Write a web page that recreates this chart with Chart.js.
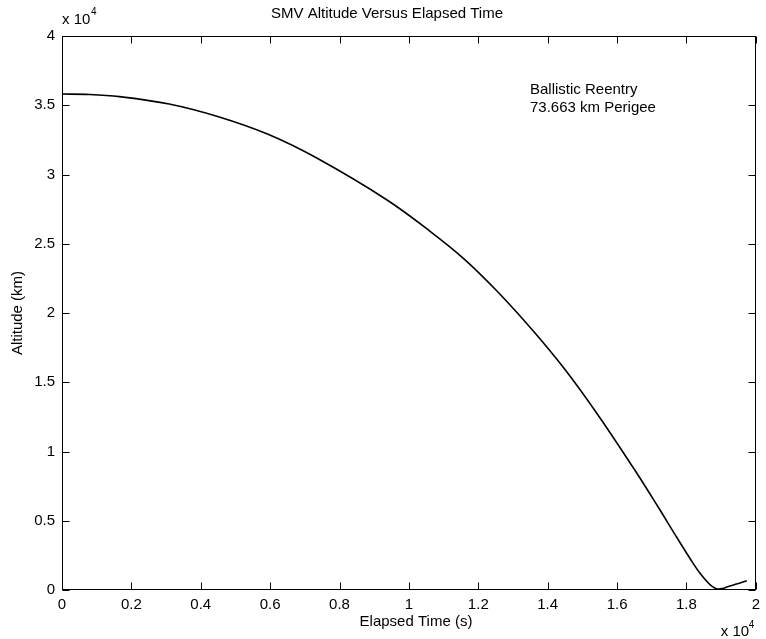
<!DOCTYPE html>
<html><head><meta charset="utf-8">
<script src="https://cdn.jsdelivr.net/npm/chart.js@4/dist/chart.umd.min.js"></script>
<style>html,body{margin:0;padding:0;background:#fff}canvas{display:block}</style>
</head><body>
<canvas id="c" width="766" height="639"></canvas>
<script>
// Data (time in s, altitude in km)
const elapsedTime = [0,800,1660,3090,4510,5940,7370,9370,10610,11570,12510,13560,14510,15460,16510,17180,17660,18130,18370,18610,18750,18890,19040,19190,19470,19740];
const altitude    = [35810,35780,35620,35090,34170,32900,31150,28160,25900,23950,21660,18770,15880,12600,8660,6010,4050,2170,1280,560,250,74,110,240,450,670];

const xTickValues = [0,2000,4000,6000,8000,10000,12000,14000,16000,18000,20000];
const xTickLabels = ['0','0.2','0.4','0.6','0.8','1','1.2','1.4','1.6','1.8','2'];
const yTickValues = [0,5000,10000,15000,20000,25000,30000,35000,40000];
const yTickLabels = ['0','0.5','1','1.5','2','2.5','3','3.5','4'];

const titleText = 'SMV Altitude Versus Elapsed Time';
const xTitle = 'Elapsed Time (s)';
const yTitle = 'Altitude (km)';
const noteLines = ['Ballistic Reentry','73.663 km Perigee'];

const FONT = '"Liberation Sans", Arial, Helvetica, sans-serif';

const points = elapsedTime.map((t,i)=>({x:t,y:altitude[i]}));

const framePlugin = {
  id:'frame',
  afterDatasetsDraw(chart){
    const {ctx, chartArea:a, scales:{x,y}} = chart;
    ctx.save();
    ctx.strokeStyle='#000'; ctx.lineWidth=1;
    const L=Math.round(a.left)+0.5, R=Math.round(a.right)-0.5, T=Math.round(a.top)+0.5, B=Math.round(a.bottom)-0.5;
    ctx.strokeRect(L,T,R-L,B-T);
    const tl=7;
    ctx.beginPath();
    xTickValues.forEach(v=>{
      const px=Math.round(x.getPixelForValue(v))+0.5;
      ctx.moveTo(px,B); ctx.lineTo(px,B-tl);
      ctx.moveTo(px,T); ctx.lineTo(px,T+tl);
    });
    yTickValues.forEach(v=>{
      const py=Math.round(y.getPixelForValue(v))+0.5;
      ctx.moveTo(L,py); ctx.lineTo(L+tl,py);
      ctx.moveTo(R,py); ctx.lineTo(R-tl,py);
    });
    ctx.stroke();
    ctx.restore();
  },
  afterDraw(chart){
    const {ctx, chartArea:a} = chart;
    ctx.save();
    ctx.fillStyle='#000';
    ctx.font='15px '+FONT;
    ctx.textBaseline='middle';
    ctx.textAlign='center';
    ctx.fillText(titleText,387,14);
    ctx.fillText(xTitle,416,a.bottom+32);
    ctx.save();
    ctx.translate(18,(a.top+a.bottom)/2);
    ctx.rotate(-Math.PI/2);
    ctx.fillText(yTitle,0,0);
    ctx.restore();
    ctx.textAlign='left';
    ctx.fillText('x 10',a.left,a.top-16);
    ctx.font='10px '+FONT;
    ctx.fillText('4',a.left+29,a.top-24);
    ctx.font='15px '+FONT;
    ctx.fillText('x 10',a.right-35,a.bottom+42);
    ctx.font='10px '+FONT;
    ctx.fillText('4',a.right-7,a.bottom+35);
    ctx.font='15px '+FONT;
    ctx.fillText(noteLines[0],530,90);
    ctx.fillText(noteLines[1],530,108);
    ctx.restore();
  }
};

new Chart(document.getElementById('c'),{
  type:'line',
  data:{datasets:[{data:points,borderColor:'#000',borderWidth:1.6,pointRadius:0,fill:false,tension:0.35}]},
  options:{
    responsive:false,animation:false,
    layout:{padding:{top:36,right:4,left:0,bottom:0}},
    plugins:{legend:{display:false},tooltip:{enabled:false},title:{display:false}},
    scales:{
      x:{type:'linear',min:0,max:20000,
        afterFit(s){s.height=49;},
        afterBuildTicks(s){s.ticks=xTickValues.map(v=>({value:v}));},
        grid:{display:false,drawTicks:false},border:{display:false},
        ticks:{padding:6,color:'#000',font:{family:FONT,size:15},maxRotation:0,autoSkip:false,
          callback:(v)=>xTickLabels[xTickValues.indexOf(v)]}},
      y:{type:'linear',min:0,max:40000,
        afterFit(s){s.width=62;},
        afterBuildTicks(s){s.ticks=yTickValues.map(v=>({value:v}));},
        grid:{display:false,drawTicks:false},border:{display:false},
        ticks:{padding:7,color:'#000',font:{family:FONT,size:15},autoSkip:false,
          callback:(v)=>yTickLabels[yTickValues.indexOf(v)]}}
    }
  },
  plugins:[framePlugin]
});
</script>
</body></html>
